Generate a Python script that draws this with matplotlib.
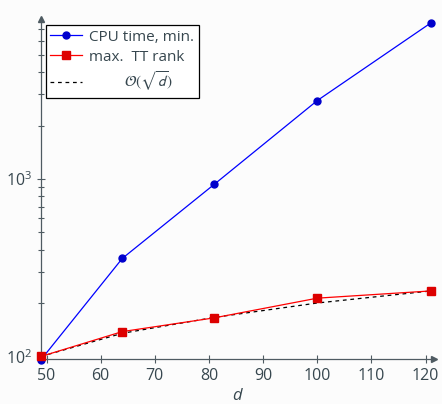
import matplotlib.pyplot as plt

# data
d = [49, 64, 81, 100, 121]
cpu_time = [96, 357, 935, 2770, 7600]
tt_rank = [100, 138, 165, 213, 234]
sqrt_ref = [100, 135, 166, 200, 234]

plt.rc('font', family='Open Sans', size=11)
plt.rc('mathtext', fontset='stixsans')
txt = '#37474f'
axc = '#4f5b62'

fig = plt.figure(figsize=(4.42, 4.04), dpi=100, facecolor='#fcfcfc')
ax = fig.add_axes([0.093, 0.112, 0.887, 0.834], facecolor='#fcfcfc')

ax.plot(d, cpu_time, '-o', color='#0000ff', mfc='#0000cc', mec='#0000cc',
        lw=0.9, ms=5, label='CPU time, min.', clip_on=False, zorder=3)
ax.plot(d, tt_rank, '-s', color='#ff0000', mfc='#dd0000', mec='#dd0000',
        lw=0.9, ms=5.5, label='max.  TT rank', clip_on=False, zorder=4)
ax.plot(d, sqrt_ref, '--', color='black', lw=0.9, dashes=(3, 3),
        label=r'         $\mathcal{O}(\sqrt{d})$', clip_on=False, zorder=2)

ax.set_yscale('log')
ax.set_xlim(49, 121.4)
ax.set_ylim(97, 7700)
ax.set_xticks([50, 60, 70, 80, 90, 100, 110, 120])

for s in ['top', 'right']:
    ax.spines[s].set_visible(False)
for s in ['left', 'bottom']:
    ax.spines[s].set_color(axc)
    ax.spines[s].set_linewidth(0.9)
ax.tick_params(which='both', direction='inout', color=axc, labelcolor=txt,
               labelsize=11.5)
ax.tick_params(which='major', length=6, width=0.8)
ax.tick_params(which='minor', length=4, width=0.8)

# arrow heads at the ends of the axis lines
ax.plot(1.003, 0, '>', color=axc, ms=4, transform=ax.transAxes, clip_on=False)
ax.plot(0, 1.008, '^', color=axc, ms=4, transform=ax.transAxes, clip_on=False)

ax.set_xlabel('d', color=txt, fontsize=12, style='italic', labelpad=3)

leg = ax.legend(loc='upper left', bbox_to_anchor=(0.012, 0.99), frameon=True,
                fancybox=False, edgecolor='black', framealpha=1,
                facecolor='white', fontsize=11, handlelength=2.1,
                borderpad=0.3, labelspacing=0.32, handletextpad=0.45,
                borderaxespad=0)
leg.get_frame().set_linewidth(0.9)
for t in leg.get_texts():
    t.set_color(txt)

plt.savefig('out.png', dpi=100, facecolor=fig.get_facecolor())
